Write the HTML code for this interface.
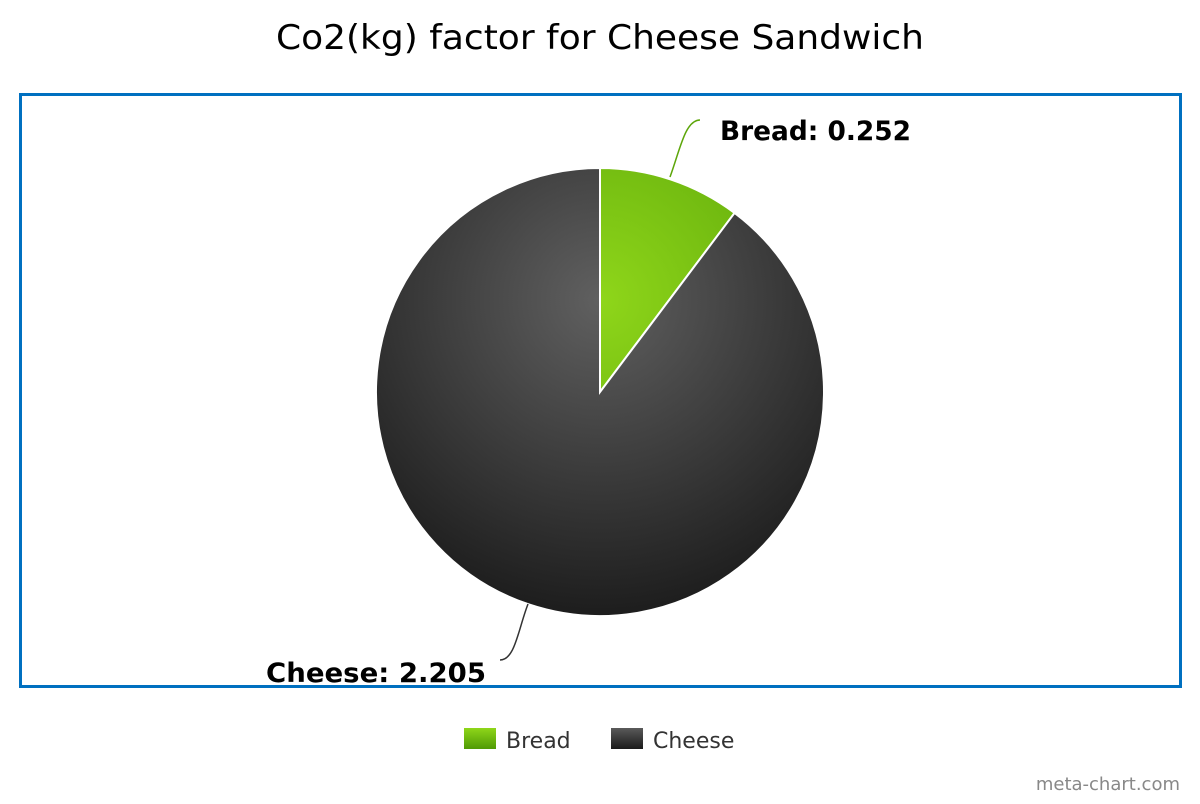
<!DOCTYPE html>
<html><head><meta charset="utf-8">
<style>
html,body{margin:0;padding:0;background:#fff;}
body{width:1200px;height:800px;overflow:hidden;font-family:"DejaVu Sans",sans-serif;}
</style></head>
<body>
<svg width="1200" height="800" xmlns="http://www.w3.org/2000/svg">
<defs>
<radialGradient id="g0" cx="600" cy="300" r="330" gradientUnits="userSpaceOnUse">
<stop offset="0" stop-color="#8fd61a"/><stop offset="1" stop-color="#4f9a05"/></radialGradient>
<radialGradient id="g1" cx="600" cy="300" r="330" gradientUnits="userSpaceOnUse">
<stop offset="0" stop-color="#606060"/><stop offset="1" stop-color="#1a1a1a"/></radialGradient>
<linearGradient id="lg0" x1="0" y1="0" x2="0" y2="1"><stop offset="0" stop-color="#8fd61a"/><stop offset="1" stop-color="#4f9a05"/></linearGradient>
<linearGradient id="lg1" x1="0" y1="0" x2="0" y2="1"><stop offset="0" stop-color="#5a5a5a"/><stop offset="1" stop-color="#1a1a1a"/></linearGradient>
</defs>
<text x="276" y="49" font-size="34" fill="#000" textLength="648" lengthAdjust="spacingAndGlyphs">Co2(kg) factor for Cheese Sandwich</text>
<rect x="20.5" y="94.5" width="1160" height="592" fill="none" stroke="#0070c0" stroke-width="3"/>
<g id="slices"></g>
<path d="M670,177 C680,150 685,120 700,120" fill="none" stroke="#5da60a" stroke-width="1.5"/>
<text x="720" y="140" font-size="27" font-weight="bold" fill="#000" textLength="191" lengthAdjust="spacingAndGlyphs">Bread: 0.252</text>
<path d="M528,604 C518,630 515,660 500,660" fill="none" stroke="#333" stroke-width="1.5"/>
<text x="266" y="682" font-size="27" font-weight="bold" fill="#000" textLength="220" lengthAdjust="spacingAndGlyphs">Cheese: 2.205</text>
<g>
<rect x="464" y="728" width="32" height="21" fill="url(#lg0)"/>
<text x="506" y="748" font-size="22" fill="#333">Bread</text>
<rect x="611" y="728" width="32" height="21" fill="url(#lg1)"/>
<text x="653" y="748" font-size="22" fill="#333">Cheese</text>
</g>
<text x="1180" y="790" text-anchor="end" font-size="18" fill="#888">meta-chart.com</text>
</svg>
<script>
const categories = ["Bread","Cheese"];
const values = [0.252, 2.205];
const cx=600, cy=392, r=224;
const g=document.getElementById('slices');
const total=values.reduce((a,b)=>a+b,0);
let a0=0;
values.forEach((v,i)=>{
  const a1=a0+v/total*2*Math.PI;
  const x0=cx+r*Math.sin(a0), y0=cy-r*Math.cos(a0);
  const x1=cx+r*Math.sin(a1), y1=cy-r*Math.cos(a1);
  const large=(a1-a0)>Math.PI?1:0;
  const p=document.createElementNS('http://www.w3.org/2000/svg','path');
  p.setAttribute('d',`M${cx},${cy} L${x0},${y0} A${r},${r} 0 ${large} 1 ${x1},${y1} Z`);
  p.setAttribute('fill',`url(#g${i})`);
  p.setAttribute('stroke','#fff');
  p.setAttribute('stroke-width','2');
  
  
  g.appendChild(p);
  a0=a1;
});
</script>
</body></html>
